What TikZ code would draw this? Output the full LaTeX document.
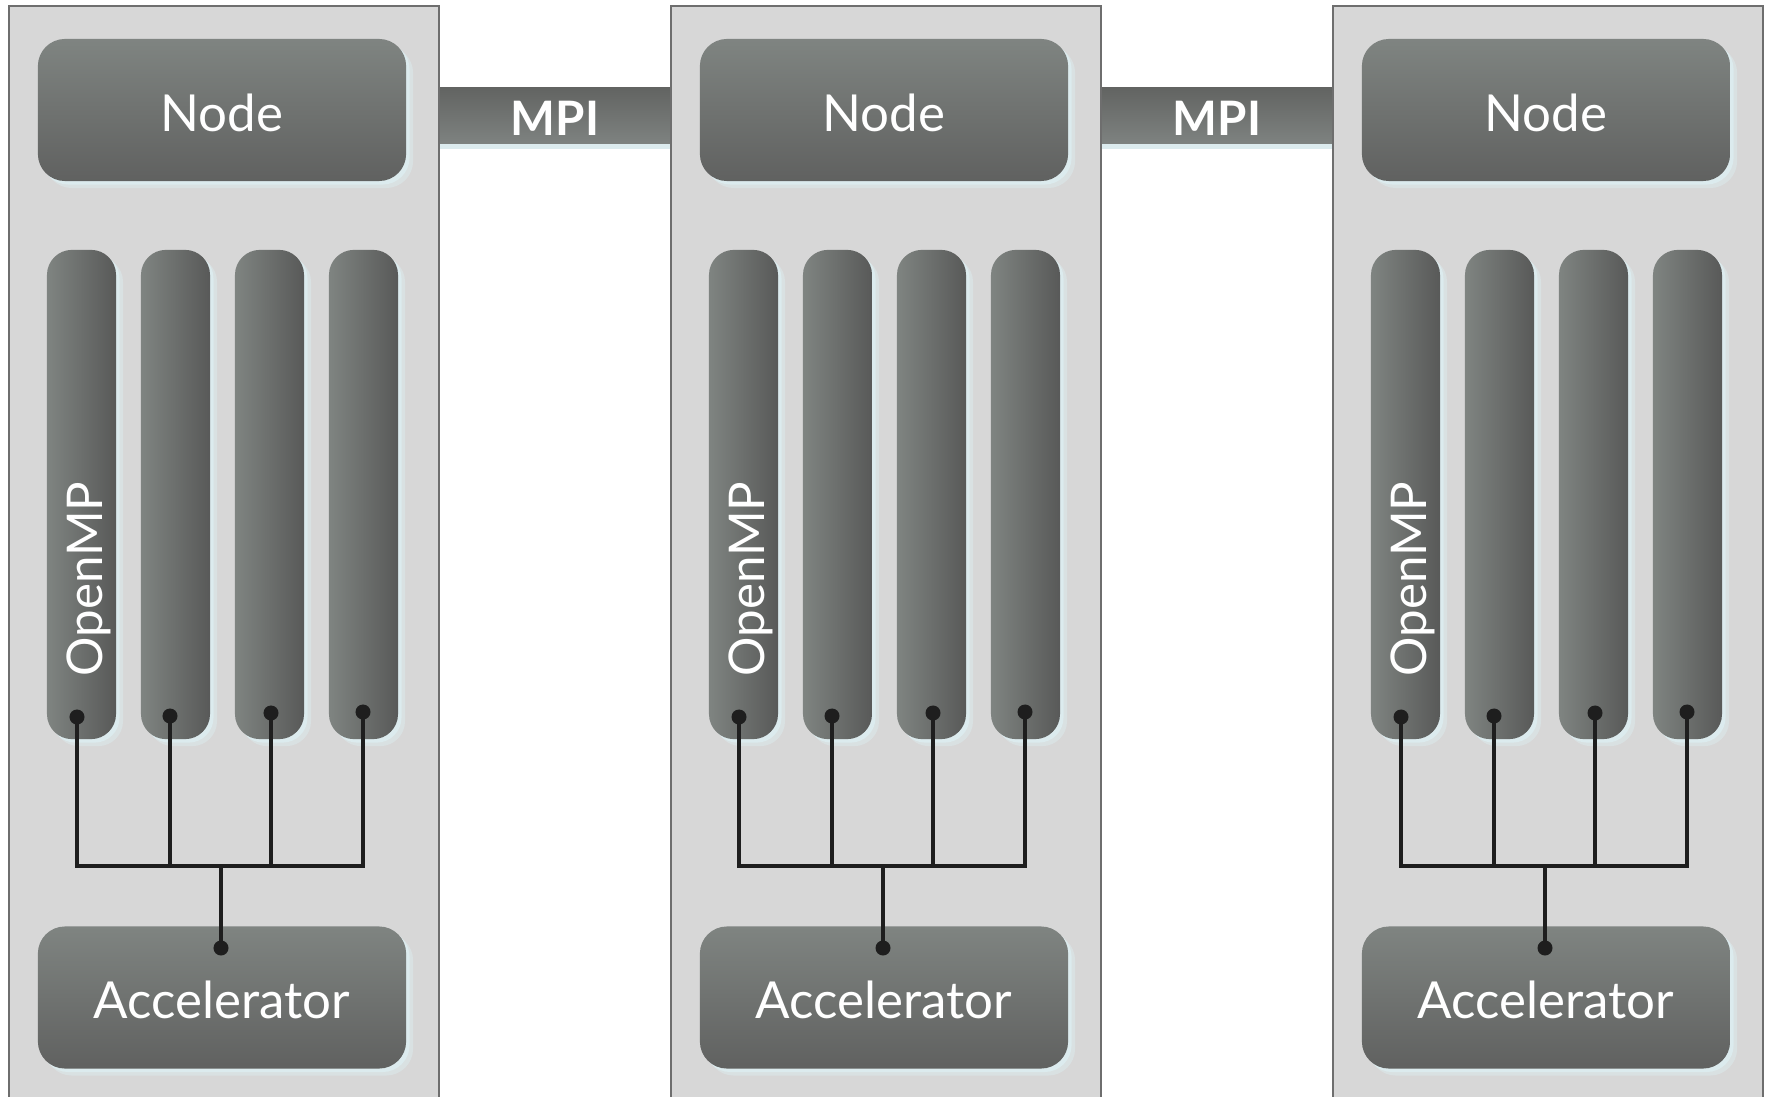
\documentclass[tikz,border=0pt]{standalone}
\usepackage{fontspec}
\setmainfont{Lato}
\usepackage{tikz}
\usepackage{xcolor}
\usetikzlibrary{positioning,shadows}
\definecolor{Panel_Gray}{HTML}{D7D7D7}
\definecolor{Panel_Edge}{HTML}{6E6E6E}
\definecolor{Box_Top}{HTML}{7F8481}
\definecolor{Box_Bottom}{HTML}{606160}
\definecolor{Bar_Top}{HTML}{626462}
\definecolor{Bar_Bottom}{HTML}{7E8280}
\definecolor{Glow_Blue}{HTML}{DCEBEE}
\definecolor{Wire_Black}{HTML}{1E1E1E}

\begin{document}
\begin{tikzpicture}[x=0.01cm, y=-0.01cm,
    glow/.style={drop shadow={shadow xshift=0.07cm, shadow yshift=-0.07cm, fill=Glow_Blue, opacity=0.5},
                 drop shadow={shadow xshift=0.035cm, shadow yshift=-0.035cm, fill=Glow_Blue, opacity=1}},
    panel/.style={draw=Panel_Edge, line width=0.7pt, fill=Panel_Gray, anchor=north west, inner sep=0, outer sep=0,
                  minimum width=4.3cm, minimum height=11.4cm},
    box/.style={rounded corners=0.27cm, top color=Box_Top, bottom color=Box_Bottom, text=white, glow,
                minimum width=3.68cm, minimum height=1.42cm, font=\fontsize{14.5}{16}\selectfont,
                text height=1.2em, text depth=0pt},
    core/.style={rounded corners=0.25cm, left color=Box_Top, right color=Box_Bottom!92!black, glow,
                 minimum width=0.69cm, minimum height=4.89cm, inner sep=0},
    mpi/.style={top color=Bar_Top, bottom color=Bar_Bottom, text=white, inner sep=0,
                minimum width=2.32cm, minimum height=0.55cm, font=\bfseries\fontsize{13.5}{15}\selectfont,
                text height=1.15em, text depth=0pt,
                drop shadow={shadow xshift=0cm, shadow yshift=-0.06cm, fill=Glow_Blue, opacity=1}},
    dot/.style={circle, fill=Wire_Black, inner sep=0, minimum size=0.15cm},
    wire/.style={draw=Wire_Black, line width=1.1pt}]
    \clip (0,0) rectangle (1769,1097);
    \fill[white] (0,0) rectangle (1769,1097);

    % MPI links between the panels
    \node[mpi] (mpi1) at (555,115.5) {MPI};
    \node[mpi] (mpi2) at (1217,115.5) {MPI};

    \foreach \i/\p in {1/9, 2/671, 3/1333} {
        % Panel with node and accelerator
        \node[panel] (panel\i) at (\p,6) {};
        \node[box] (node\i) at (\p+213,110) {Node};
        \node[box] (acc\i) at (\p+213,997.5) {Accelerator};

        % Cores with their taps
        \foreach \j/\dx/\dy in {1/68/717, 2/161/716, 3/262/713, 4/354/712} {
            \node[core] (core\i-\j) at (\p+72.5+94*\j-94,494.5) {};
            \node[dot] (dot\i-\j) at (\p+\dx,\dy) {};
        }
        \node[rotate=90, anchor=base, text=white, inner sep=0, font=\fontsize{14}{16}\selectfont]
            (omp\i) at (\p+93,579) {OpenMP};

        % Bus down to the accelerator
        \coordinate (bus\i) at (\p+212,866);
        \node[dot] (adot\i) at (\p+212,948) {};
        \draw[wire] (dot\i-1.center) |- (dot\i-4 |- bus\i) -- (dot\i-4.center);
        \draw[wire] (dot\i-2.center) -- (dot\i-2 |- bus\i);
        \draw[wire] (dot\i-3.center) -- (dot\i-3 |- bus\i);
        \draw[wire] (bus\i) -- (adot\i.center);
    }

\end{tikzpicture}
\end{document}
